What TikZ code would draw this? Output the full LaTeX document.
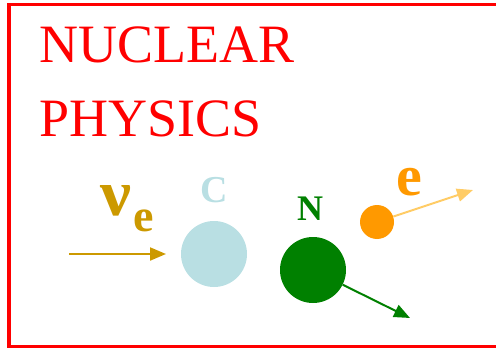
\documentclass[tikz,border=0pt]{standalone}
\usepackage{fontspec}
\setmainfont{Liberation Serif}
\usetikzlibrary{arrows.meta}
\definecolor{gold}{HTML}{CC9900}
\definecolor{lblue}{HTML}{B9DFE3}
\definecolor{dgreen}{HTML}{008000}
\definecolor{orng}{HTML}{FF9900}
\definecolor{lorng}{HTML}{FFCC66}
\tikzset{
  title/.style={text=red, inner sep=0pt, anchor=base west, font=\fontsize{54}{54}\selectfont},
  lbl/.style={inner sep=0pt, anchor=base, font=\bfseries},
  ball/.style={circle, inner sep=0pt, minimum size=#1},
  arr/.style={line width=2pt, -{Triangle[length=16pt,width=13pt]}}
}
\begin{document}
\begin{tikzpicture}[x=1pt,y=-1pt]
\useasboundingbox (0,0) rectangle (496,348);
\draw[red, line width=3.5pt] (530,4.5) -- (9,4.5) -- (9,347) -- (530,347);
\node[title] (t1) at (39.5,62) {NUCLEAR};
\node[title] (t2) at (39.5,136) {PHYSICS};
% particles
\node[ball=66pt, fill=lblue] (C) at (214,254) {};
\node[ball=66pt, fill=dgreen] (N) at (313,270) {};
\node[ball=34pt, fill=orng] (E) at (377,222) {};
% labels
\node[lbl, text=gold, anchor=base west, font=\fontsize{46}{46}\selectfont] (nu) at (100,215) {\resizebox{31pt}{30pt}{\bfseries\upshape ν}\hspace{2pt}\textbf{\raisebox{-16.5pt}{e}}};
\node[lbl, text=lblue, font=\fontsize{38}{38}\bfseries\selectfont] (Cl) at (214,202) {C};
\node[lbl, text=dgreen, font=\fontsize{36}{36}\bfseries\selectfont] (Nl) at (310,220) {N};
\node[lbl, text=orng, font=\fontsize{58}{58}\bfseries\selectfont] (El) at (409.5,195) {e};
% arrows
\coordinate (nuS) at (69,254);
\coordinate (nuT) at (166,254);
\coordinate (eT) at (473,190);
\coordinate (nT) at (410,318);
\draw[arr, gold] (nuS) -- (nuT);
\draw[arr, lorng] (E) -- (eT);
\draw[arr, dgreen] (N) -- (nT);
\end{tikzpicture}
\end{document}
